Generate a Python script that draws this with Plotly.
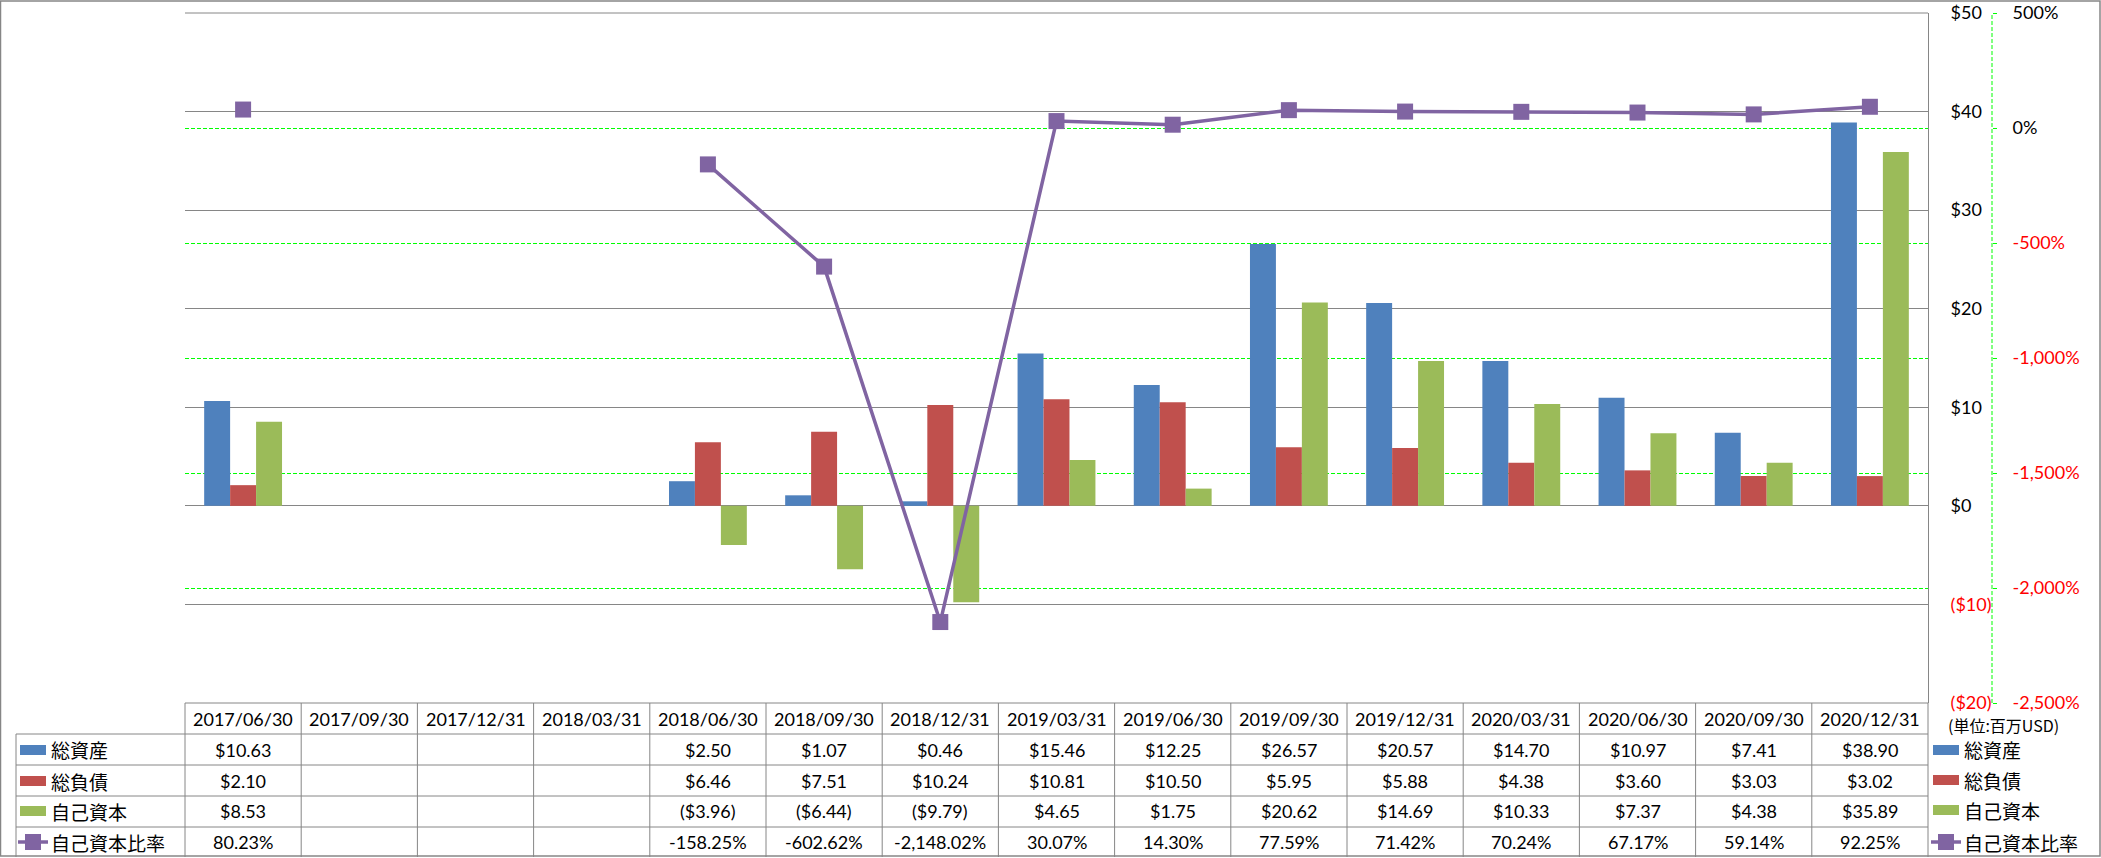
import plotly.graph_objects as go

# ---------------- data ----------------
periods = ["2017/06/30", "2017/09/30", "2017/12/31", "2018/03/31", "2018/06/30",
           "2018/09/30", "2018/12/31", "2019/03/31", "2019/06/30", "2019/09/30",
           "2019/12/31", "2020/03/31", "2020/06/30", "2020/09/30", "2020/12/31"]
total_assets = [10.63, None, None, None, 2.50, 1.07, 0.46, 15.46, 12.25, 26.57,
                20.57, 14.70, 10.97, 7.41, 38.90]
total_liabilities = [2.10, None, None, None, 6.46, 7.51, 10.24, 10.81, 10.50, 5.95,
                     5.88, 4.38, 3.60, 3.03, 3.02]
equity = [8.53, None, None, None, -3.96, -6.44, -9.79, 4.65, 1.75, 20.62,
          14.69, 10.33, 7.37, 4.38, 35.89]
equity_ratio = [80.23, None, None, None, -158.25, -602.62, -2148.02, 30.07, 14.30,
                77.59, 71.42, 70.24, 67.17, 59.14, 92.25]

series_names = ["総資産", "総負債", "自己資本", "自己資本比率"]
unit_label = "(単位:百万USD)"

y1_ticks = [50, 40, 30, 20, 10, 0, -10, -20]
y2_ticks = [500, 0, -500, -1000, -1500, -2000, -2500]

# ---------------- style ----------------
C_BLUE, C_RED, C_GREEN, C_PURPLE = "#4F81BD", "#C0504D", "#9BBB59", "#8064A2"
GRID = "#868686"
LIME = "#00FF00"
NUMFONT = "Lato"
JPFONT = "Noto Sans CJK JP"

W, H = 2101, 858
ML, MR, MT, MB = 185, 11, 13, 155
PW, PH = W - ML - MR, H - MT - MB
PLOT_RIGHT = 1928
AX2_X = 1992


def px2x(px):
    return (px - ML) / PW


def px2y(py):
    return (H - MB - py) / PH


def money(v):
    if v is None:
        return ""
    return f"(${-v:,.2f})" if v < 0 else f"${v:,.2f}"


def pct(v):
    if v is None:
        return ""
    return f"{v:,.2f}%"


def red(s):
    return f"<span style='color:#FF0000'>{s}</span>"


y1_text = [red(f"(${-v})") if v < 0 else f"${v}" for v in y1_ticks]
y2_text = [red(f"{v:,}%") if v < 0 else f"{v:,}%" for v in y2_ticks]

fig = go.Figure()
for name, vals, col in zip(series_names[:3], [total_assets, total_liabilities, equity],
                           [C_BLUE, C_RED, C_GREEN]):
    fig.add_trace(go.Bar(x=periods, y=vals, name=name, marker_color=col,
                         marker_line_width=0))
fig.add_trace(go.Scatter(x=periods, y=equity_ratio, name=series_names[3], yaxis="y2",
                         mode="lines+markers", connectgaps=False,
                         line=dict(color=C_PURPLE, width=3.5),
                         marker=dict(symbol="square", size=16, color=C_PURPLE)))

xdom = px2x(PLOT_RIGHT)
fig.update_layout(
    width=W, height=H,
    margin=dict(l=ML, r=MR, t=MT, b=MB, pad=0, autoexpand=False),
    paper_bgcolor="white", plot_bgcolor="white",
    showlegend=False,
    barmode="group", bargap=0.33, bargroupgap=0,
    font=dict(family=NUMFONT, size=17, color="black"),
    xaxis=dict(type="category", domain=[0, xdom], range=[-0.5, len(periods) - 0.5],
               showticklabels=False, showgrid=False, zeroline=False, showline=False,
               automargin=False),
    yaxis=dict(side="right", range=[-20, 50], tickmode="array", tickvals=y1_ticks,
               ticktext=y1_text, showgrid=True, gridcolor=GRID, gridwidth=1,
               zeroline=False, showline=True, linecolor=GRID, linewidth=1,
               ticks="", ticklabelstandoff=18, automargin=False,
               tickfont=dict(family=NUMFONT, size=18, color="black")),
    yaxis2=dict(overlaying="y", side="right", anchor="free", position=px2x(AX2_X),
                range=[-2500, 500], tickmode="array", tickvals=y2_ticks,
                ticktext=y2_text, showgrid=True, gridcolor=LIME, gridwidth=1,
                griddash="4px,2px", zeroline=False, showline=False, automargin=False,
                ticks="outside", ticklen=4, tickcolor=LIME, ticklabelstandoff=12,
                tickfont=dict(family=NUMFONT, size=18, color="black")),
)

shapes = []
line_style = dict(color=GRID, width=1)
# outer frame
shapes.append(dict(type="rect", xref="paper", yref="paper", x0=px2x(0.5), x1=px2x(2100),
                   y0=px2y(856), y1=px2y(1), line=dict(color=GRID, width=1.5)))
# green dashed secondary axis line
shapes.append(dict(type="line", xref="paper", yref="paper", x0=px2x(AX2_X), x1=px2x(AX2_X),
                   y0=0, y1=1, line=dict(color=LIME, width=1, dash="4px,2px")))
# top border line of plot
shapes.append(dict(type="line", xref="paper", yref="paper", x0=0, x1=xdom, y0=1, y1=1,
                   line=line_style))

# table geometry
row_lines = [703, 734, 765, 796, 827, 857]
shapes.append(dict(type="line", xref="paper", yref="paper", x0=0, x1=xdom,
                   y0=px2y(row_lines[0]), y1=px2y(row_lines[0]), line=line_style))
for r in row_lines[1:5]:
    shapes.append(dict(type="line", xref="paper", yref="paper", x0=px2x(16), x1=xdom,
                       y0=px2y(r), y1=px2y(r), line=line_style))
# vertical lines: column boundaries of the category axis
n = len(periods)
for i in range(n + 1):
    xb = xdom * i / n
    shapes.append(dict(type="line", xref="paper", yref="paper", x0=xb, x1=xb,
                       y0=px2y(row_lines[0]), y1=px2y(857), line=line_style))
shapes.append(dict(type="line", xref="paper", yref="paper", x0=px2x(16), x1=px2x(16),
                   y0=px2y(row_lines[1]), y1=px2y(857), line=line_style))

annotations = []
row_centers = [719, 750, 781, 811, 842]
for i, p in enumerate(periods):
    annotations.append(dict(x=p, xref="x", y=px2y(row_centers[0]), yref="paper",
                            text=p, showarrow=False, xanchor="center", yanchor="middle",
                            font=dict(family=NUMFONT, size=18)))
    for k, (vals, fmt) in enumerate([(total_assets, money), (total_liabilities, money),
                                     (equity, money), (equity_ratio, pct)]):
        t = fmt(vals[i])
        if t:
            annotations.append(dict(x=p, xref="x", y=px2y(row_centers[k + 1]), yref="paper",
                                    text=t, showarrow=False, xanchor="center",
                                    yanchor="middle", font=dict(family=NUMFONT, size=18)))

colors = [C_BLUE, C_RED, C_GREEN, C_PURPLE]


def legend_key(x0, yc, k):
    if k < 3:
        shapes.append(dict(type="rect", xref="paper", yref="paper", x0=px2x(x0),
                           x1=px2x(x0 + 26), y0=px2y(yc + 5), y1=px2y(yc - 5),
                           fillcolor=colors[k], line=dict(width=0)))
    else:
        shapes.append(dict(type="line", xref="paper", yref="paper", x0=px2x(x0 - 2),
                           x1=px2x(x0 + 28), y0=px2y(yc), y1=px2y(yc),
                           line=dict(color=C_PURPLE, width=3.5)))
        shapes.append(dict(type="rect", xref="paper", yref="paper", x0=px2x(x0 + 5),
                           x1=px2x(x0 + 21), y0=px2y(yc + 8), y1=px2y(yc - 8),
                           fillcolor=C_PURPLE, line=dict(width=0)))


# table legend column
for k, name in enumerate(series_names):
    yc = row_centers[k + 1]
    legend_key(20, yc, k)
    annotations.append(dict(x=px2x(49), xref="paper", y=px2y(yc), yref="paper", text=name,
                            showarrow=False, xanchor="left", yanchor="middle",
                            font=dict(family=JPFONT, size=19)))

# right legend
annotations.append(dict(x=px2x(2003), xref="paper", y=px2y(725), yref="paper",
                        text=unit_label, showarrow=False, xanchor="center",
                        yanchor="middle", font=dict(family=JPFONT, size=16)))
for k, name in enumerate(series_names):
    yc = [750, 780, 810, 842][k]
    legend_key(1933, yc, k)
    annotations.append(dict(x=px2x(1962), xref="paper", y=px2y(yc), yref="paper", text=name,
                            showarrow=False, xanchor="left", yanchor="middle",
                            font=dict(family=JPFONT, size=19)))

fig.update_layout(shapes=shapes, annotations=annotations)
fig.write_html("out.html", config={"displayModeBar": False},
               post_script="document.body.style.margin='0';"
                           "document.body.style.overflow='hidden';")
